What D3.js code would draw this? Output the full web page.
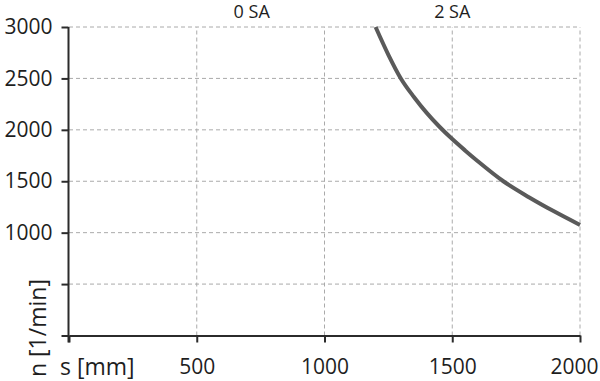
<!DOCTYPE html>
<html>
<head>
<meta charset="utf-8">
<script src="https://cdn.jsdelivr.net/npm/d3@7"></script>
<style>
  body { margin: 0; background: #fff; }
  text { font-family: "Open Sans", sans-serif; fill: #1e1e1e; }
  .grid line { stroke: #aaa; stroke-dasharray: 4,3; stroke-width: 1; }
  .axis path, .axis line { stroke: #2b2b2b; stroke-width: 2; }
</style>
</head>
<body>
<svg id="chart" width="600" height="381"></svg>
<script>
// travel s [mm] vs speed n [1/min]
const strokeS = [1200, 1250, 1300, 1350, 1400, 1450, 1500, 1550, 1600, 1700, 1800, 1900, 2000];
const speedN  = [3000, 2730, 2495, 2320, 2165, 2030, 1910, 1800, 1695, 1500, 1345, 1205, 1075];

const xTicks = [0, 500, 1000, 1500, 2000];
const yTicks = [0, 500, 1000, 1500, 2000, 2500, 3000];
const xLabelled = [500, 1000, 1500, 2000];
const yLabelled = [1000, 1500, 2000, 2500, 3000];

const zones = ['0 SA', '2 SA'];
const zonePos = [715, 1500];

const draw = (target, d3 = window.d3) => {
	const x = d3.scaleLinear().domain([0, 2000]).range([69, 580]);
	const y = d3.scaleLinear().domain([0, 3000]).range([335.5, 27]);

	// dashed grid
	const grid = target.append('g').attr('class', 'grid');
	grid.selectAll('.gv')
		.data(xTicks.filter(d => d > 0))
		.enter().append('line')
		.attr('x1', d => x(d)).attr('x2', d => x(d))
		.attr('y1', y(0)).attr('y2', y(3000));
	grid.selectAll('.gh')
		.data(yTicks.filter(d => d > 0))
		.enter().append('line')
		.attr('x1', x(0)).attr('x2', x(2000))
		.attr('y1', d => y(d)).attr('y2', d => y(d));

	// curve
	const line = d3.line()
		.x(d => x(d[0]))
		.y(d => y(d[1]))
		.curve(d3.curveMonotoneX);
	target.append('path')
		.datum(strokeS.map((s, i) => [s, speedN[i]]))
		.attr('d', line)
		.attr('fill', 'none')
		.attr('stroke', '#5a5a5a')
		.attr('stroke-width', 4);

	// axes
	const xAxis = d3.axisBottom(x)
		.tickValues(xTicks)
		.tickSize(7)
		.tickPadding(17)
		.tickSizeOuter(0)
		.tickFormat(d => xLabelled.includes(d) ? d : '');
	const gx = target.append('g')
		.attr('class', 'axis axis--x')
		.attr('transform', `translate(0,${y(0)})`)
		.call(xAxis);
	gx.selectAll('text').style('font-size', '21px').attr('fill', '#1e1e1e');
	gx.selectAll('.tick text').filter(d => d === 2000).attr('text-anchor', 'end').attr('x', 18);

	const yAxis = d3.axisLeft(y)
		.tickValues(yTicks)
		.tickSize(7)
		.tickPadding(9)
		.tickSizeOuter(0)
		.tickFormat(d => yLabelled.includes(d) ? d : '');
	const gy = target.append('g')
		.attr('class', 'axis axis--y')
		.attr('transform', `translate(${x(0) - 0.5},0)`)
		.call(yAxis);
	gy.selectAll('text').style('font-size', '21px').attr('fill', '#1e1e1e');
	gy.selectAll('.domain').attr('d', `M0,${y(3000)}V${y(0) + 7}`);

	// axis titles
	target.append('text')
		.attr('x', 60).attr('y', 375)
		.style('font-size', '23px')
		.text('s [mm]');
	target.append('text')
		.attr('transform', 'translate(46,377) rotate(-90)')
		.style('font-size', '23px')
		.text('n [1/min]');

	// zone labels
	target.selectAll('.zone')
		.data(zones)
		.enter().append('text')
		.attr('class', 'zone')
		.attr('x', (d, i) => x(zonePos[i]))
		.attr('y', 18)
		.attr('text-anchor', 'middle')
		.style('font-size', '18px')
		.text(d => d);
};

draw(d3.select('#chart'));
</script>
</body>
</html>
